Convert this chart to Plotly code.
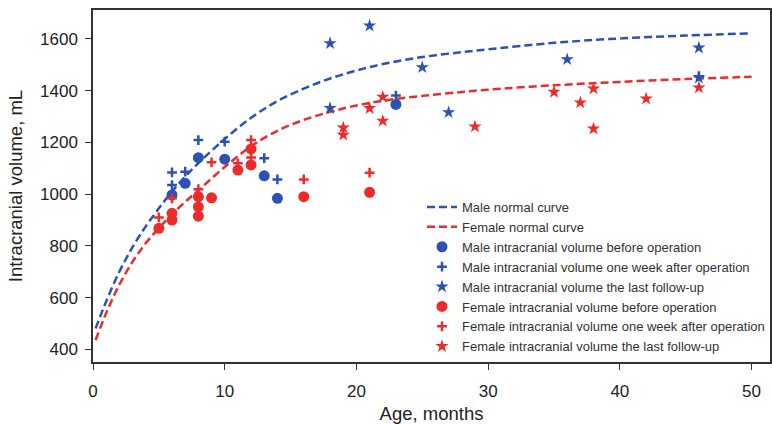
import plotly.graph_objects as go

# Normal curves
curve_age = [0.2, 1, 2, 3, 4, 5, 6, 7, 8, 10, 12, 14, 16, 18, 20, 22, 25, 28, 30, 35, 40, 45, 50]
male_curve = [481, 585, 700, 795, 875, 945, 1010, 1068, 1120, 1213, 1295, 1360, 1408, 1447, 1478,
              1503, 1530, 1549, 1560, 1585, 1602, 1613, 1622]
female_curve = [436, 540, 650, 738, 810, 868, 922, 970, 1015, 1105, 1185, 1245, 1287, 1318, 1343,
                1361, 1380, 1395, 1404, 1421, 1434, 1445, 1454]

# Male points
male_before_age = [6, 7, 8, 10, 13, 14, 23]
male_before_vol = [997, 1042, 1141, 1135, 1071, 984, 1347]
male_week_age = [6, 6, 7, 8, 10, 13, 14, 23, 46]
male_week_vol = [1084, 1035, 1087, 1209, 1203, 1139, 1057, 1381, 1456]
male_last_age = [18, 21, 25, 18, 27, 36, 46, 46]
male_last_vol = [1583, 1651, 1490, 1332, 1316, 1521, 1566, 1450]

# Female points
female_before_age = [5, 6, 6, 8, 8, 8, 9, 11, 12, 12, 16, 21]
female_before_vol = [868, 926, 900, 990, 951, 915, 986, 1093, 1113, 1175, 990, 1007]
female_week_age = [5, 6, 8, 9, 11, 12, 12, 16, 21]
female_week_vol = [910, 984, 1019, 1123, 1119, 1209, 1142, 1057, 1083]
female_last_age = [19, 19, 21, 22, 22, 29, 35, 37, 38, 38, 42, 46]
female_last_vol = [1257, 1229, 1332, 1376, 1283, 1261, 1395, 1354, 1408, 1253, 1369, 1412]

BLUE = "#2c52b4"
RED = "#ee2b2b"

fig = go.Figure()
fig.add_trace(go.Scatter(x=curve_age, y=male_curve, mode="lines", name="Male normal curve",
                         line=dict(color=BLUE, width=2.5, dash="8px,4px", shape="spline")))
fig.add_trace(go.Scatter(x=curve_age, y=female_curve, mode="lines", name="Female normal curve",
                         line=dict(color=RED, width=2.5, dash="8px,4px", shape="spline")))
fig.add_trace(go.Scatter(x=male_before_age, y=male_before_vol, mode="markers",
                         name="Male intracranial volume before operation",
                         marker=dict(symbol="circle", size=11, color=BLUE)))
fig.add_trace(go.Scatter(x=male_week_age, y=male_week_vol, mode="markers",
                         name="Male intracranial volume one week after operation",
                         marker=dict(symbol="cross-thin", size=7, color=BLUE,
                                     line=dict(color=BLUE, width=2.5))))
fig.add_trace(go.Scatter(x=male_last_age, y=male_last_vol, mode="markers",
                         name="Male intracranial volume the last follow-up",
                         marker=dict(symbol="star", size=10, color=BLUE)))
fig.add_trace(go.Scatter(x=female_before_age, y=female_before_vol, mode="markers",
                         name="Female intracranial volume before operation",
                         marker=dict(symbol="circle", size=11, color=RED)))
fig.add_trace(go.Scatter(x=female_week_age, y=female_week_vol, mode="markers",
                         name="Female intracranial volume one week after operation",
                         marker=dict(symbol="cross-thin", size=7, color=RED,
                                     line=dict(color=RED, width=2.5))))
fig.add_trace(go.Scatter(x=female_last_age, y=female_last_vol, mode="markers",
                         name="Female intracranial volume the last follow-up",
                         marker=dict(symbol="star", size=10, color=RED)))

axis_common = dict(showline=True, linecolor="#333333", linewidth=1.5, mirror=True,
                   ticks="outside", ticklen=6, tickwidth=1.2, tickcolor="#333333",
                   showgrid=False, zeroline=False, automargin=False,
                   tickfont=dict(family="Liberation Sans", size=17, color="#222222"),
                   title_font=dict(family="Liberation Sans", size=18.5, color="#222222"))

fig.update_xaxes(range=[0, 51.4], tickvals=[0, 10, 20, 30, 40, 50],
                 title_text="Age, months", title_standoff=13, ticklabelstandoff=7,
                 **axis_common)
fig.update_yaxes(range=[351, 1712], tickvals=[400, 600, 800, 1000, 1200, 1400, 1600],
                 title_text="Intracranial volume, mL", title_standoff=13, ticklabelstandoff=4,
                 **axis_common)

fig.update_layout(
    width=772, height=424,
    margin=dict(l=93, r=2, t=10, b=62),
    plot_bgcolor="white", paper_bgcolor="white",
    font=dict(family="Liberation Sans", color="#333333"),
    legend=dict(x=1, y=0.0, xanchor="right", yanchor="bottom",
                bgcolor="rgba(255,255,255,0)", borderwidth=0,
                font=dict(family="Liberation Sans", size=13, color="#333333"),
                tracegroupgap=0, itemwidth=30),
)

fig.write_html("out.html", config={"displayModeBar": False},
               post_script="document.body.style.margin='0';")
